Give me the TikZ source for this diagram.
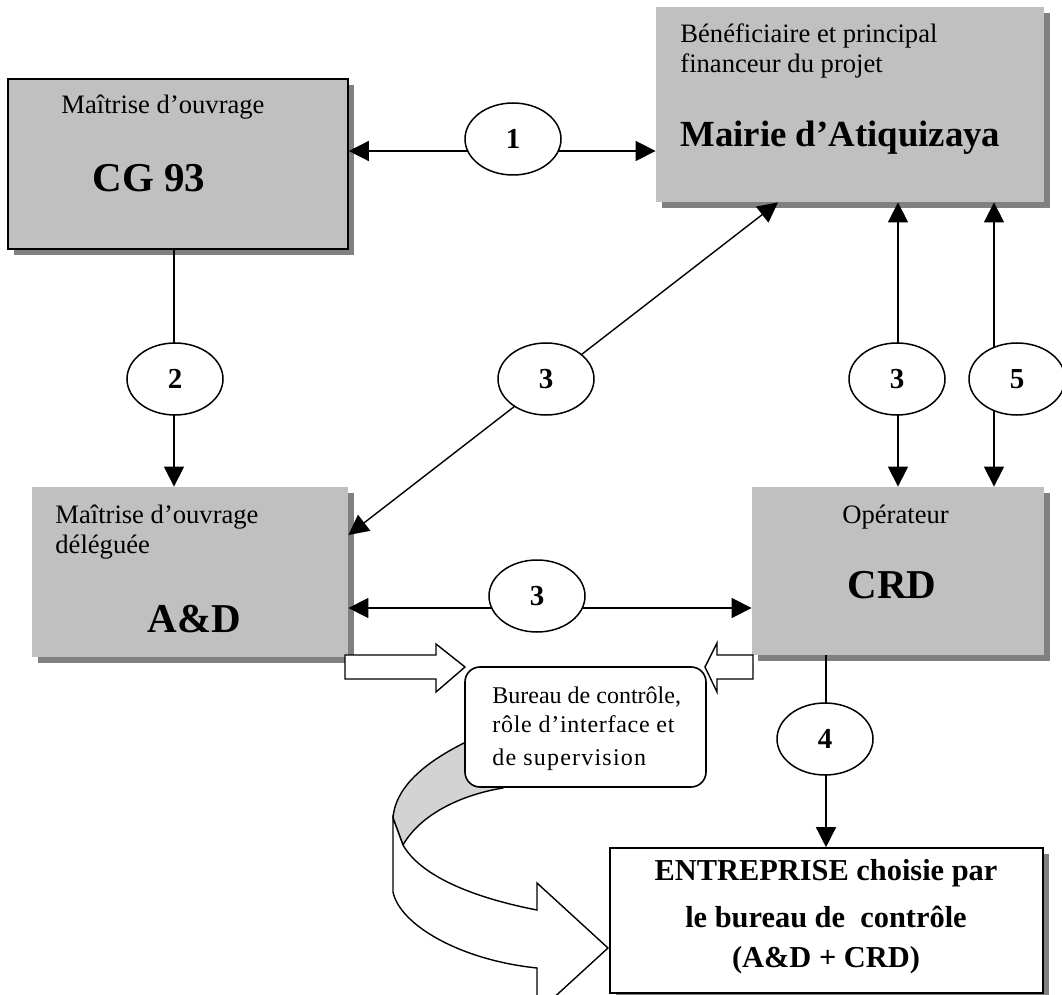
\documentclass[tikz,border=0pt]{standalone}
\usepackage{fontspec}
\setmainfont{Liberation Serif}
\usetikzlibrary{arrows.meta,shapes.geometric,shadows}
\definecolor{boxgray}{RGB}{192,192,192}
\definecolor{shgray}{RGB}{128,128,128}
\definecolor{ribgray}{RGB}{211,211,211}
\begin{document}
\begin{tikzpicture}[x=0.5pt,y=-0.5pt,
  >={Triangle[length=10pt,width=10pt]},
  shad/.style={drop shadow={shadow xshift=3pt,shadow yshift=-3pt,fill=shgray,opacity=1}},
  graybox/.style={rectangle,inner sep=0pt,fill=boxgray,shad},
  whitebox/.style={rectangle,inner sep=0pt,fill=white,draw,line width=0.8pt,shad},
  txt/.style={inner sep=0pt,anchor=base west,font=\fontsize{13.3}{15}\selectfont},
  small/.style={inner sep=0pt,anchor=base west,font=\fontsize{12}{14}\selectfont},
  big/.style={inner sep=0pt,anchor=base west,font=\bfseries\fontsize{20.5}{24}\selectfont},
  enttxt/.style={inner sep=0pt,anchor=base,font=\bfseries\fontsize{15.2}{18}\selectfont},
  num/.style={ellipse,draw,fill=white,line width=0.75pt,minimum width=48pt,minimum height=36pt,inner sep=0pt,font=\bfseries\fontsize{14.5}{16}\selectfont},
  conn/.style={line width=0.7pt},
  blockarrow/.style={draw,fill=white,line width=0.7pt,line join=miter}
]
\useasboundingbox (0,0) rectangle (1062,995);
\clip (0,0) rectangle (1062,995);

% boxes
\node[graybox,draw,line width=0.8pt,minimum width=170pt,minimum height=85pt] (cg) at (178,164) {};
\node[graybox,minimum width=194pt,minimum height=97.5pt] (mairie) at (850,104.5) {};
\node[graybox,minimum width=158pt,minimum height=85pt] (ad) at (190,572) {};
\node[graybox,minimum width=146pt,minimum height=84pt] (crd) at (898,571) {};
\node[whitebox,minimum width=216.5pt,minimum height=72.5pt] (ent) at (826.5,920.5) {};

% box texts
\node[txt] (cgt) at (61,114) {Maîtrise d’ouvrage};
\node[big] (cgn) at (92,192) {CG 93};
\node[txt] (mt1) at (680,43) {Bénéficiaire et principal};
\node[txt] (mt2) at (680,73) {financeur du projet};
\node[inner sep=0pt,anchor=base west,font=\bfseries\fontsize{18.4}{22}\selectfont] (mn) at (680,147) {Mairie d’Atiquizaya};
\node[txt] (at1) at (55,523) {Maîtrise d’ouvrage};
\node[txt] (at2) at (55,553) {déléguée};
\node[big] (an) at (147,632) {A\&D};
\node[txt] (ct) at (842,523) {Opérateur};
\node[big] (cn) at (847,598) {CRD};
\node[enttxt] (e1t) at (826,880) {ENTREPRISE choisie par};
\node[enttxt] (e2t) at (826,927) {le bureau de \ contrôle};
\node[enttxt] (e3t) at (826,967) {(A\&D + CRD)};

% connectors
\coordinate (y1) at (0,151);
\draw[conn,<->] (cg.east |- y1) -- (mairie.west |- y1);
\coordinate (x2) at (174,0);
\draw[conn,->] (cg.south -| x2) -- (ad.north -| x2);
\coordinate (d1) at (778,0);
\coordinate (d2) at (0,535);
\draw[conn,<->] (ad.east |- d2) -- (mairie.south -| d1);
\coordinate (x3) at (898,0);
\draw[conn,<->] (mairie.south -| x3) -- (crd.north -| x3);
\coordinate (x5) at (994,0);
\draw[conn,<->] (mairie.south -| x5) -- (crd.north -| x5);
\coordinate (y3) at (0,608);
\draw[conn,<->] (ad.east |- y3) -- (crd.west |- y3);
\coordinate (x4) at (826,0);
\draw[conn,->] (crd.south -| x4) -- (ent.north -| x4);

% number ellipses
\node[num] (n1) at (513,139) {1};
\node[num] (n2) at (175,379) {2};
\node[num] (n3a) at (546,379) {3};
\node[num] (n3b) at (897,379) {3};
\node[num] (n5) at (1017,379) {5};
\node[num] (n3c) at (537,596) {3};
\node[num] (n4) at (825,739) {4};

% block arrows
\draw[blockarrow] (345,655) -- (436,655) -- (436,644) -- (465,667) -- (436,692) -- (436,679) -- (345,679) -- cycle;
\draw[blockarrow] (753,655) -- (717,655) -- (717,643) -- (705,667) -- (717,692) -- (717,679) -- (753,679) -- cycle;

% curved ribbon arrow
\draw[line width=0.7pt,fill=ribgray,line join=round]
  (464,743) .. controls (420,765) and (395,790) .. (393,818)
  -- (403,845) .. controls (420,815) and (460,795) .. (503,788)
  -- (480,760) -- cycle;
\draw[line width=0.7pt,fill=white,line join=miter]
  (393,818) -- (393,892) .. controls (400,925) and (460,960) .. (537,968)
  -- (537,1013) -- (608,948) -- (537,883) -- (537,910)
  .. controls (470,897) and (420,875) .. (403,845) -- cycle;

% bureau box
\node[rectangle,draw,fill=white,line width=0.8pt,rounded corners=7.5pt,minimum width=120.5pt,minimum height=60pt,inner sep=0pt] (bur) at (585.5,727) {};
\node[small] (b1) at (492,703) {Bureau de contrôle,};
\node[small] (b2) at (492,732) {\addfontfeatures{LetterSpace=3}rôle d’interface et};
\node[small] (b3) at (492,765) {\addfontfeatures{LetterSpace=5}de supervision};
\end{tikzpicture}
\end{document}
